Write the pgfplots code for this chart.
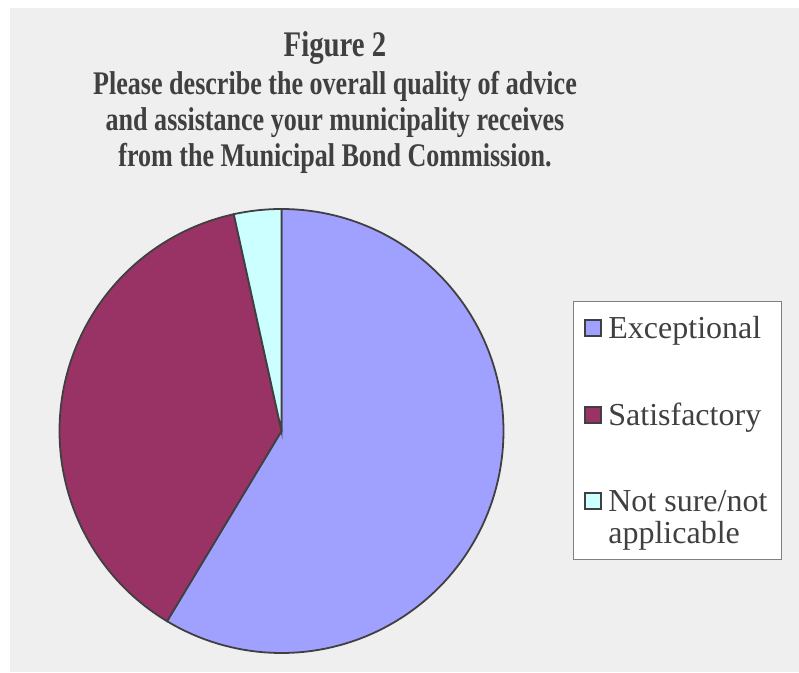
\documentclass[border=0pt]{standalone}
\usepackage{pgfplots}
\usepackage{pgfplotstable}
\pgfplotsset{compat=1.18}
\usepackage{fontspec}
\setmainfont{Liberation Serif}
\usepackage{graphicx}

\definecolor{excol}{HTML}{A0A0FF}
\definecolor{satcol}{HTML}{993366}
\definecolor{notcol}{HTML}{CCFFFF}
\definecolor{edgecol}{HTML}{404040}
\definecolor{bgcol}{HTML}{EFEFEF}
\definecolor{txtcol}{HTML}{404040}

\pgfplotstableread{
label value
Exceptional 17
Satisfactory 11
NotSure 1
}\piedata

\begin{document}
\begin{tikzpicture}[x=1pt,y=1pt]
\path[use as bounding box] (0,0) rectangle (799,672);
\fill[white] (0,0) rectangle (799,672);
\fill[bgcol] (10,0) rectangle (799,664);

% title
\node[anchor=base, text=txtcol, inner sep=0] at (335,615) {\scalebox{0.8}[1]{\fontsize{36}{36}\selectfont\bfseries Figure 2}};
\node[anchor=base, text=txtcol, inner sep=0] at (335,577) {\scalebox{0.79}[1]{\fontsize{33}{33}\selectfont\bfseries Please describe the overall quality of advice}};
\node[anchor=base, text=txtcol, inner sep=0] at (335,541) {\scalebox{0.79}[1]{\fontsize{33}{33}\selectfont\bfseries and assistance your municipality receives}};
\node[anchor=base, text=txtcol, inner sep=0] at (335,505) {\scalebox{0.79}[1]{\fontsize{33}{33}\selectfont\bfseries from the Municipal Bond Commission.}};

\pgfplotstablegetelem{0}{value}\of\piedata \let\vA\pgfplotsretval
\pgfplotstablegetelem{1}{value}\of\piedata \let\vB\pgfplotsretval
\pgfplotstablegetelem{2}{value}\of\piedata \let\vC\pgfplotsretval
\pgfmathsetmacro\tot{\vA+\vB+\vC}
\pgfmathsetmacro\aO{90}
\pgfmathsetmacro\aI{\aO-360*\vA/\tot}
\pgfmathsetmacro\aII{\aI-360*\vB/\tot}
\pgfmathsetmacro\aIII{\aII-360*\vC/\tot}

\begin{axis}[
  at={(281.5pt,241pt)}, anchor=center,
  x=222pt, y=222pt,
  xmin=-1, xmax=1, ymin=-1, ymax=1,
  hide axis, clip=false,
  legend style={
    at={(1.1565,0.7928)}, anchor=north west,
    draw=gray, fill=white, line width=0.8pt,
    font=\fontsize{32}{32}\selectfont, text=txtcol,
    row sep=57pt, inner xsep=11pt, inner ysep=12pt,
    cells={anchor=west, align=left},
    nodes={inner sep=3pt},
    /tikz/every odd column/.append style={column sep=3pt},
  },
  legend image code/.code={\draw[#1, draw=edgecol, line width=2pt] (3pt,-8pt) rectangle (19pt,8pt);},
]
\addplot[fill=excol, draw=edgecol, line width=1.8pt, domain=0:1, samples=120, variable=\t]
  ({cos(\aO+(\aI-\aO)*\t)}, {sin(\aO+(\aI-\aO)*\t)}) -- (axis cs:0,0) -- cycle;
\addlegendentry{Exceptional}
\addplot[fill=satcol, draw=edgecol, line width=1.8pt, domain=0:1, samples=100, variable=\t]
  ({cos(\aI+(\aII-\aI)*\t)}, {sin(\aI+(\aII-\aI)*\t)}) -- (axis cs:0,0) -- cycle;
\addlegendentry{Satisfactory}
\addplot[fill=notcol, draw=edgecol, line width=1.8pt, domain=0:1, samples=20, variable=\t,
  legend image code/.code={\draw[fill=notcol, draw=edgecol, line width=2pt] (3pt,8pt) rectangle (19pt,24pt);}]
  ({cos(\aII+(\aIII-\aII)*\t)}, {sin(\aII+(\aIII-\aII)*\t)}) -- (axis cs:0,0) -- cycle;
\addlegendentry{Not sure/not\\applicable}
\end{axis}
\end{tikzpicture}
\end{document}
